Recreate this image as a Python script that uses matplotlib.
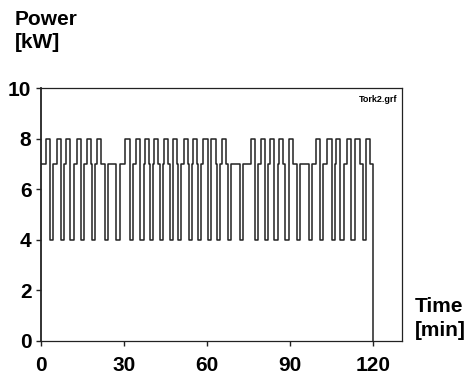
import matplotlib.pyplot as plt

# pulse times, minutes
up_on = [1.9, 6.0, 9.2, 13.0, 16.6, 20.4,
         30.6, 34.4, 37.7, 40.9, 44.5, 47.6, 51.8, 54.8, 58.7, 61.6, 65.4,
         75.7, 79.3, 82.7, 86.0, 89.6,
         99.3, 103.4, 106.5, 110.5, 113.5, 117.1]
up_off = [3.4, 7.4, 10.7, 14.5, 18.1, 21.9,
          32.2, 35.9, 39.2, 42.4, 46.0, 49.1, 53.3, 56.3, 60.2, 63.1, 66.9,
          77.2, 80.8, 84.2, 87.5, 91.1,
          100.8, 104.9, 108.0, 112.0, 115.0, 118.6]
down_on = [3.4, 7.4, 10.7, 14.6, 18.6, 23.1, 27.3,
           32.2, 36.0, 39.3, 42.9, 46.5, 49.4, 53.5, 56.6, 60.2, 63.6, 67.6, 71.9,
           77.2, 80.9, 84.3, 88.3, 92.5, 96.7,
           100.8, 104.9, 108.1, 112.0, 116.2]
down_off = [4.6, 8.6, 11.9, 15.8, 19.8, 24.3, 28.5,
            33.4, 37.2, 40.5, 44.1, 47.7, 50.6, 54.7, 57.8, 61.4, 64.8, 68.8, 73.1,
            78.4, 82.1, 85.5, 89.5, 93.7, 97.9,
            102.0, 106.1, 109.3, 113.2, 117.4]
base, high, low = 7, 8, 4
t_end = 120

edges = sorted(set([0, t_end] + up_on + up_off + down_on + down_off))
t, p = [], []
for a in edges[:-1]:
    if any(on <= a < off for on, off in zip(down_on, down_off)):
        v = low
    elif any(on <= a < off for on, off in zip(up_on, up_off)):
        v = high
    else:
        v = base
    t.append(a)
    p.append(v)
t += [t_end, t_end]
p += [base, 0]

plt.rcParams['font.family'] = 'Liberation Sans'
plt.rcParams['font.weight'] = 'bold'

W, H = 466, 378
fig = plt.figure(figsize=(W / 100, H / 100), dpi=100)
ax = fig.add_axes([40.5 / W, 1 - 341 / H, (402 - 40.5) / W, (341 - 88) / H])
ax.step(t, p, where='post', color='#222222', lw=1.1)
ax.set_xlim(0, 130.3)
ax.set_ylim(0, 10)
ax.set_xticks([0, 30, 60, 90, 120])
ax.set_yticks([0, 2, 4, 6, 8, 10])
ax.tick_params(axis='both', direction='out', length=3.5, width=1, labelsize=15, color='#222222')
ax.tick_params(axis='x', pad=7.5)
ax.tick_params(axis='y', pad=3)
for lab in ax.get_xticklabels() + ax.get_yticklabels():
    lab.set_fontweight('bold')
for s in ax.spines.values():
    s.set_linewidth(0.9)
    s.set_color('#222222')
ax.spines['left'].set_linewidth(1.3)

def px(x, y):
    return x / W, 1 - y / H

fig.text(*px(15, 25), 'Power', fontsize=15, fontweight='bold', va='baseline')
fig.text(*px(15, 48), '[kW]', fontsize=15, fontweight='bold', va='baseline')
fig.text(*px(415, 312), 'Time', fontsize=15, fontweight='bold', va='baseline')
fig.text(*px(415, 336), '[min]', fontsize=15, fontweight='bold', va='baseline')
fig.text(*px(397, 95), 'Tork2.grf', fontsize=6.5, fontweight='bold', ha='right', va='top')

fig.savefig('out.png', dpi=100)
